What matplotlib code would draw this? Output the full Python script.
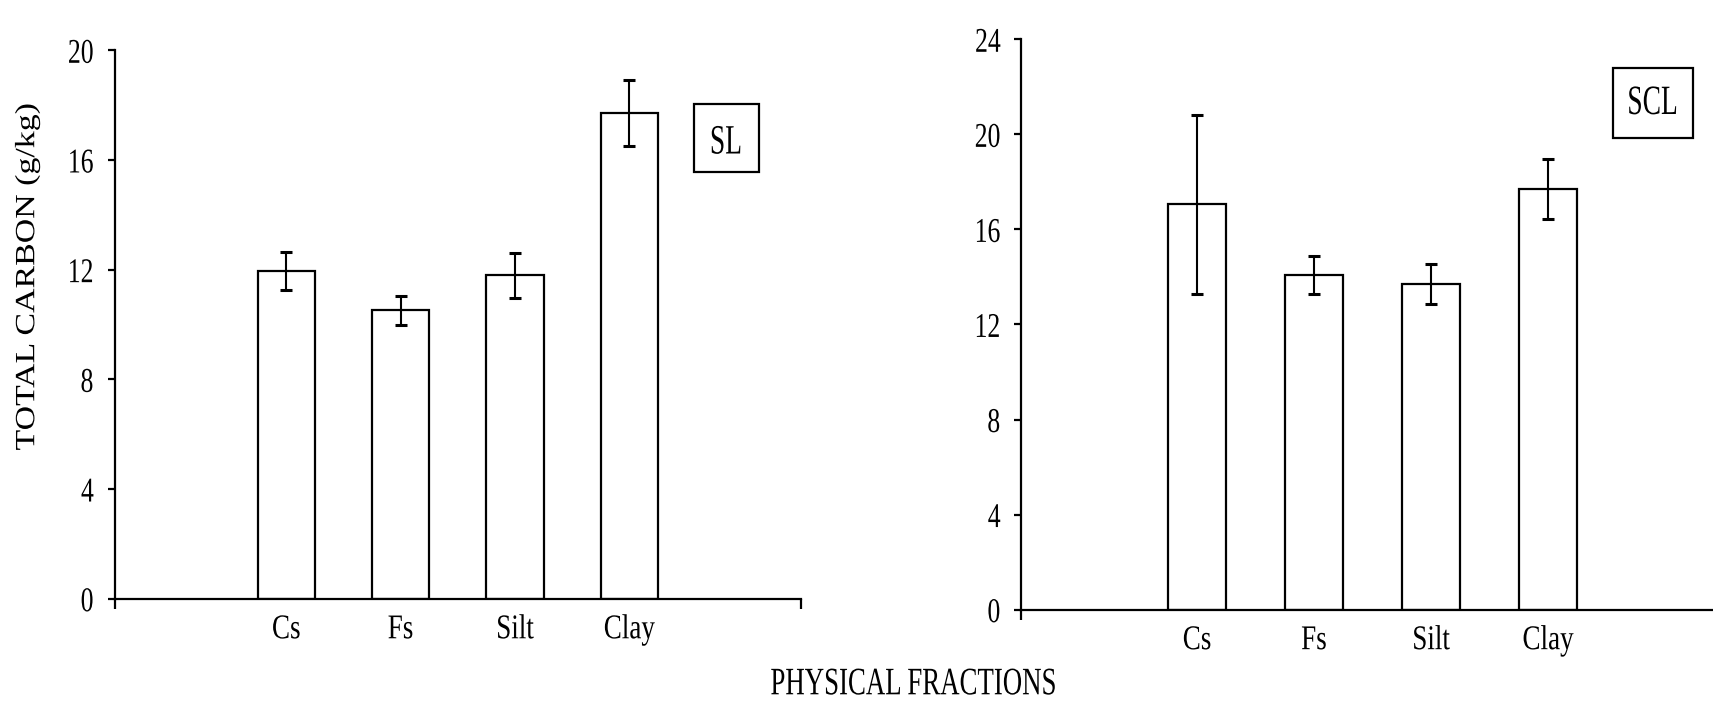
import matplotlib
matplotlib.use("Agg")
import matplotlib.pyplot as plt
from matplotlib.patches import Rectangle
from matplotlib.patheffects import AbstractPathEffect
from matplotlib.transforms import Affine2D

# ---- data -------------------------------------------------------------
fractions = ["Cs", "Fs", "Silt", "Clay"]

sl_carbon = [11.95, 10.52, 11.8, 17.7]
sl_err = [0.68, 0.52, 0.82, 1.2]

scl_carbon = [17.05, 14.1, 13.7, 17.7]
scl_err = [3.75, 0.8, 0.86, 1.26]

sl_yticks = [0, 4, 8, 12, 16, 20]
scl_yticks = [0, 4, 8, 12, 16, 20, 24]


class Narrow(AbstractPathEffect):
    """Squeeze (or widen) glyph outlines along the text direction."""

    def __init__(self, sx=0.68, anchor="center"):
        super().__init__()
        self.sx = sx
        self.anchor = anchor

    def draw_path(self, renderer, gc, tpath, affine, rgbFace=None):
        ext = tpath.get_extents()
        if self.anchor == "right":
            cx = ext.x1
        elif self.anchor == "left":
            cx = ext.x0
        else:
            cx = 0.5 * (ext.x0 + ext.x1)
        squeeze = Affine2D().translate(-cx, 0).scale(self.sx, 1).translate(cx, 0)
        renderer.draw_path(gc, tpath, squeeze + affine, rgbFace)


SERIF = ["Liberation Serif", "DejaVu Serif"]
plt.rcParams["font.family"] = SERIF
LW = 1.6

W, H = 1713, 701
fig = plt.figure(figsize=(W / 100, H / 100), dpi=100)


def px_axes(x0, x1, ybot, ytop):
    return fig.add_axes([x0 / W, (H - ybot) / H, (x1 - x0) / W, (ybot - ytop) / H])


def panel(ax, values, errs, yticks):
    x = list(range(len(fractions)))
    ax.bar(x, values, width=0.5, color="white", edgecolor="black",
           linewidth=LW, zorder=2)
    ax.errorbar(x, values, yerr=errs, fmt="none", ecolor="black",
                elinewidth=1.5, capsize=4, capthick=2.2, zorder=3)
    ax.set_xlim(-1.5, 4.5)
    ax.set_ylim(yticks[0], yticks[-1])
    ax.set_yticks(yticks)
    ax.set_yticklabels([str(t) for t in yticks])
    ax.set_xticks([-1.5, 4.5])
    ax.set_xticklabels(["", ""])
    ax.set_xticks(x, minor=True)
    ax.set_xticklabels(fractions, minor=True)
    for s in ("top", "right"):
        ax.spines[s].set_visible(False)
    for s in ("left", "bottom"):
        ax.spines[s].set_linewidth(LW)
    ax.tick_params(axis="y", which="major", direction="out", length=5,
                   width=LW, pad=10, labelsize=25)
    ax.tick_params(axis="x", which="major", direction="out", length=7,
                   width=LW)
    ax.tick_params(axis="x", which="minor", length=0, pad=10.5, labelsize=25)
    for lbl in ax.get_yticklabels():
        lbl.set_path_effects([Narrow(0.74, "right")])
    for lbl in ax.get_xticklabels(minor=True):
        lbl.set_path_effects([Narrow(0.78, "center")])


ax1 = px_axes(114.7, 800.8, 598.7, 50.3)
panel(ax1, sl_carbon, sl_err, sl_yticks)

ax2 = px_axes(1021.5, 1723.5, 609.6, 39.3)
panel(ax2, scl_carbon, scl_err, scl_yticks)


def label_box(x0, x1, ytop, ybot, text, tx, tbase):
    rect = Rectangle((x0 / W, (H - ybot) / H), (x1 - x0) / W, (ybot - ytop) / H,
                     transform=fig.transFigure, facecolor="white",
                     edgecolor="black", linewidth=LW)
    fig.add_artist(rect)
    t = fig.text(tx / W, (H - tbase) / H, text, ha="center", va="baseline",
                 fontsize=30)
    t.set_path_effects([Narrow(0.66, "center")])


label_box(694, 759, 104, 172.3, "SL", 725.9, 153.5)
label_box(1613.3, 1693.3, 68.3, 138.3, "SCL", 1652.5, 114)

xl = fig.text(913.4 / W, (H - 694.3) / H, "PHYSICAL FRACTIONS",
              ha="center", va="baseline", fontsize=28)
xl.set_path_effects([Narrow(0.69, "center")])

yl = fig.text(27.6 / W, (H - 277) / H, "TOTAL CARBON (g/kg)",
              rotation=90, ha="center", va="center", fontsize=20)
yl.set_path_effects([Narrow(1.22, "center")])

fig.savefig("out.png", dpi=100, facecolor="white")
